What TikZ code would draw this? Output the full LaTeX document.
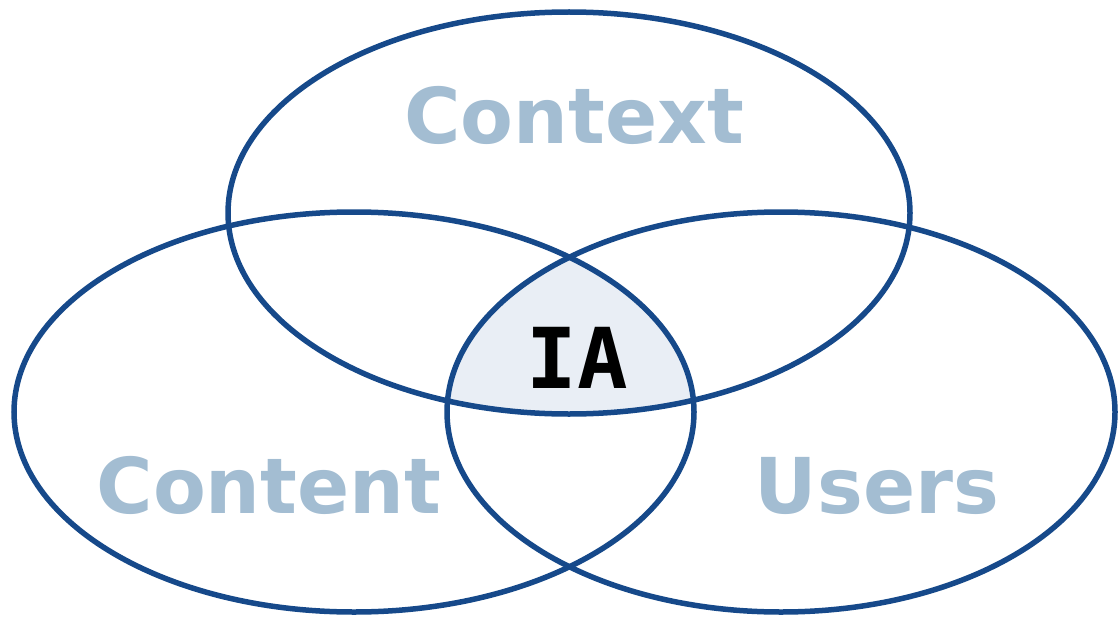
\documentclass[tikz,border=0pt]{standalone}
\usepackage{fontspec}
\setmainfont{DejaVu Sans}
\newfontfamily\iafont{DejaVu Sans Mono}
\usetikzlibrary{shapes.geometric}
\definecolor{ring}{HTML}{16498A}
\definecolor{lbl}{HTML}{A3BDD2}
\definecolor{iafill}{HTML}{E9EEF5}
\begin{document}
\begin{tikzpicture}[x=1pt,y=-1pt,
  ring/.style={draw=ring,line width=5.5pt,ellipse,inner sep=0pt},
  lab/.style={text=lbl,font=\fontsize{77}{80}\selectfont\bfseries,anchor=base,inner sep=0pt}]
\useasboundingbox (0,0) rectangle (1118,623);
\begin{scope}
  \clip (569,213) ellipse [x radius=341,y radius=201];
  \clip (354,412) ellipse [x radius=340,y radius=200];
  \fill[iafill] (781,412) ellipse [x radius=334,y radius=200];
\end{scope}
\node[ring,minimum width=682pt,minimum height=402pt] (context) at (569,213) {};
\node[ring,minimum width=680pt,minimum height=400pt] (content) at (354,412) {};
\node[ring,minimum width=668pt,minimum height=400pt] (users) at (781,412) {};
\node[lab] (tcontext) at (574,143) {Context};
\node[lab] (tcontent) at (269,513) {Content};
\node[lab] (tusers) at (877,513) {Users};
\node[anchor=base,inner sep=0pt,font=\fontsize{84}{88}\selectfont\iafont\bfseries] (ia) at (577,388) {IA};
\end{tikzpicture}
\end{document}
